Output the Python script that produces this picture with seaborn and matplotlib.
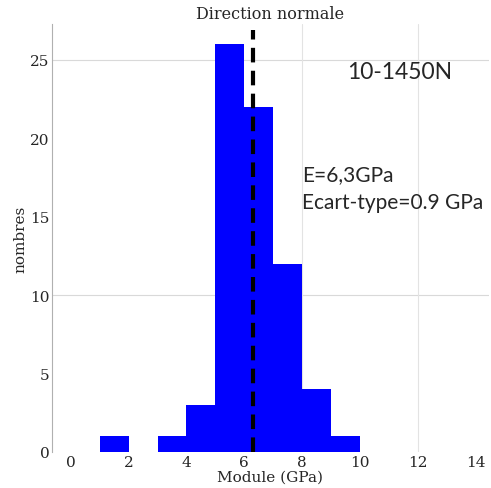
import numpy as np
import seaborn as sns
import matplotlib.pyplot as plt

# Données de l'histogramme (bornes des classes en GPa, effectifs)
bin_edges = [0, 1, 2, 3, 4, 5, 6, 7, 8, 9, 10]
counts = [0, 1, 0, 1, 3, 26, 22, 12, 4, 1]
mean_E = 6.3
x_ticks = [0, 2, 4, 6, 8, 10, 12, 14]
y_ticks = [0, 5, 10, 15, 20, 25]

centers = [(a + b) / 2 for a, b in zip(bin_edges[:-1], bin_edges[1:])]

sns.set_style("white")
plt.rcParams['font.family'] = ['DejaVu Serif']

fig = plt.figure(figsize=(4.91, 4.89), dpi=100)
ax = fig.add_axes([0.106, 0.074, 0.889, 0.875])

sns.histplot(x=centers, weights=counts, bins=bin_edges, color=(0, 0, 1),
             alpha=1, edgecolor='none', linewidth=0, ax=ax)

# Grille (lignes visibles sur l'original)
for yv in [10, 25]:
    ax.axhline(yv, color='#d9d9d9', lw=0.8, zorder=0)
for xv in [8, 12]:
    ax.axvline(xv, color='#e3e3e3', lw=0.8, zorder=0)

ax.axvline(mean_E, ymin=0, ymax=0.985, color='black', lw=3, ls=(0, (3.5, 2)), zorder=5)

ax.set_xlim(-0.65, 14.45)
ax.set_ylim(0, 27.3)
ax.set_xticks(x_ticks)
ax.set_yticks(y_ticks)
ax.tick_params(axis='both', length=0, labelsize=11, pad=2)

for s in ['top', 'right', 'bottom']:
    ax.spines[s].set_visible(False)
ax.spines['left'].set_color('#b0b0b0')
ax.spines['left'].set_linewidth(0.8)

ax.set_xlabel('Module (GPa)', fontsize=11, labelpad=1)
ax.set_ylabel('nombres', fontsize=11, labelpad=2)
ax.set_title('Direction normale', fontsize=11.5, pad=4)

ax.text(0.676, 0.888, '10-1450N', transform=ax.transAxes, fontsize=16.5,
        family=['Lato', 'DejaVu Sans'], va='center')
ax.text(0.573, 0.650, 'E=6,3GPa', transform=ax.transAxes, fontsize=15,
        family=['Lato', 'DejaVu Sans'], va='center')
ax.text(0.573, 0.584, 'Ecart-type=0.9 GPa', transform=ax.transAxes, fontsize=15,
        family=['Lato', 'DejaVu Sans'], va='center')

fig.savefig('out.png', dpi=100)
